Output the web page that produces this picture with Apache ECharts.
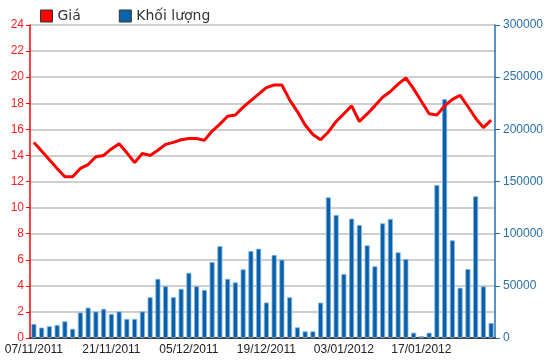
<!DOCTYPE html>
<html>
<head>
<meta charset="utf-8">
<script src="https://cdn.jsdelivr.net/npm/echarts@6/dist/echarts.min.js"></script>
<style>html,body{margin:0;padding:0;background:#fff}#c{width:550px;height:364px}</style>
</head>
<body>
<div id="c"></div>
<script>
var categories = [
  "07/11/2011","08/11/2011","09/11/2011","10/11/2011","11/11/2011",
  "14/11/2011","15/11/2011","16/11/2011","17/11/2011","18/11/2011",
  "21/11/2011","22/11/2011","23/11/2011","24/11/2011","25/11/2011",
  "28/11/2011","29/11/2011","30/11/2011","01/12/2011","02/12/2011",
  "05/12/2011","06/12/2011","07/12/2011","08/12/2011","09/12/2011",
  "12/12/2011","13/12/2011","14/12/2011","15/12/2011","16/12/2011",
  "19/12/2011","20/12/2011","21/12/2011","22/12/2011","23/12/2011",
  "26/12/2011","27/12/2011","28/12/2011","29/12/2011","30/12/2011",
  "03/01/2012","04/01/2012","05/01/2012","06/01/2012","09/01/2012",
  "10/01/2012","11/01/2012","12/01/2012","13/01/2012","16/01/2012",
  "17/01/2012","18/01/2012","19/01/2012","30/01/2012","31/01/2012",
  "01/02/2012","02/02/2012","03/02/2012","06/02/2012","07/02/2012"
];
var price = [
  15.0,14.33,13.67,13.0,12.36,12.36,13.0,13.3,13.9,14.0,
  14.5,14.9,14.2,13.45,14.15,14.0,14.4,14.85,15.0,15.2,
  15.3,15.3,15.15,15.87,16.4,17.0,17.1,17.7,18.2,18.7,
  19.2,19.4,19.4,18.26,17.36,16.33,15.6,15.2,15.8,16.6,
  17.2,17.8,16.6,17.18,17.8,18.46,18.9,19.46,19.95,19.1,
  18.15,17.2,17.1,17.8,18.3,18.6,17.75,16.85,16.13,16.7
];
var volume = [
  13500,10000,11300,12500,16000,8800,24400,29100,25400,27900,
  23100,25400,18300,18300,25400,39100,56700,49600,39100,47100,
  62500,49600,46100,72800,88100,56700,53300,65800,83400,85600,
  34000,79600,75100,39000,10200,6400,6400,33900,134800,117900,
  61300,114400,108300,88800,68700,109900,114100,82100,75700,5100,
  1900,5100,146600,229000,93600,48200,66100,135800,49500,14400
];
var seriesNames = ["Giá", "Khối lượng"];
var leftTicks = {min: 0, max: 24, interval: 2};
var rightTicks = {min: 0, max: 300000, interval: 50000};

var chart = echarts.init(document.getElementById('c'), null, {renderer: 'canvas'});
var axisFont = 'Liberation Sans, Arial, sans-serif';
chart.setOption({
  animation: false,
  backgroundColor: '#ffffff',
  legend: {
    left: 35, top: 4,
    itemWidth: 12, itemHeight: 12, itemGap: 38,
    icon: 'rect',
    textStyle: {fontFamily: 'DejaVu Sans, Verdana, sans-serif', fontSize: 14, color: '#333'},
    data: [
      {name: seriesNames[0], itemStyle: {color: '#ff0000', borderColor: '#333', borderWidth: 1}},
      {name: seriesNames[1], itemStyle: {color: '#0a64a8', borderColor: '#333', borderWidth: 1}}
    ]
  },
  grid: {left: 30, right: 55, top: 25, bottom: 26, containLabel: false},
  xAxis: [{
    type: 'category',
    data: categories,
    boundaryGap: true,
    axisLine: {lineStyle: {color: '#333', width: 1.5}},
    axisTick: {interval: 9, alignWithLabel: true, length: 5, lineStyle: {color: '#333'}},
    axisLabel: {interval: 9, margin: 6, fontFamily: axisFont, fontSize: 12, color: '#222'},
    splitLine: {show: false}
  }, {
    type: 'category',
    data: categories,
    position: 'top',
    axisLine: {lineStyle: {color: '#333', width: 1.5}},
    axisTick: {show: false},
    axisLabel: {show: false}
  }],
  yAxis: [{
    type: 'value',
    position: 'left',
    min: leftTicks.min, max: leftTicks.max, interval: leftTicks.interval,
    axisLine: {show: true, lineStyle: {color: '#ff0000', width: 1.5}},
    axisTick: {show: true, length: 4, lineStyle: {color: '#ff0000'}},
    axisLabel: {margin: 6, fontFamily: axisFont, fontSize: 12, color: '#ff2020'},
    splitLine: {show: true, lineStyle: {color: '#cfcfcf', width: 2}}
  }, {
    type: 'value',
    position: 'right',
    min: rightTicks.min, max: rightTicks.max, interval: rightTicks.interval,
    axisLine: {show: true, lineStyle: {color: '#1f6fb2', width: 1.5}},
    axisTick: {show: true, length: 5, lineStyle: {color: '#1f6fb2'}},
    axisLabel: {margin: 8, fontFamily: axisFont, fontSize: 12, color: '#2a6fa8',
      formatter: function (v) { return String(v); }},
    splitLine: {show: false}
  }],
  series: [{
    name: seriesNames[1],
    type: 'bar',
    yAxisIndex: 1,
    data: volume,
    barWidth: 5,
    itemStyle: {color: '#0a60a8', borderColor: '#7db4e6', borderWidth: 0.8},
    z: 2
  }, {
    name: seriesNames[0],
    type: 'line',
    yAxisIndex: 0,
    data: price,
    symbol: 'none',
    lineStyle: {color: '#ff0000', width: 3},
    itemStyle: {color: '#ff0000'},
    z: 3
  }]
});
</script>
</body>
</html>
